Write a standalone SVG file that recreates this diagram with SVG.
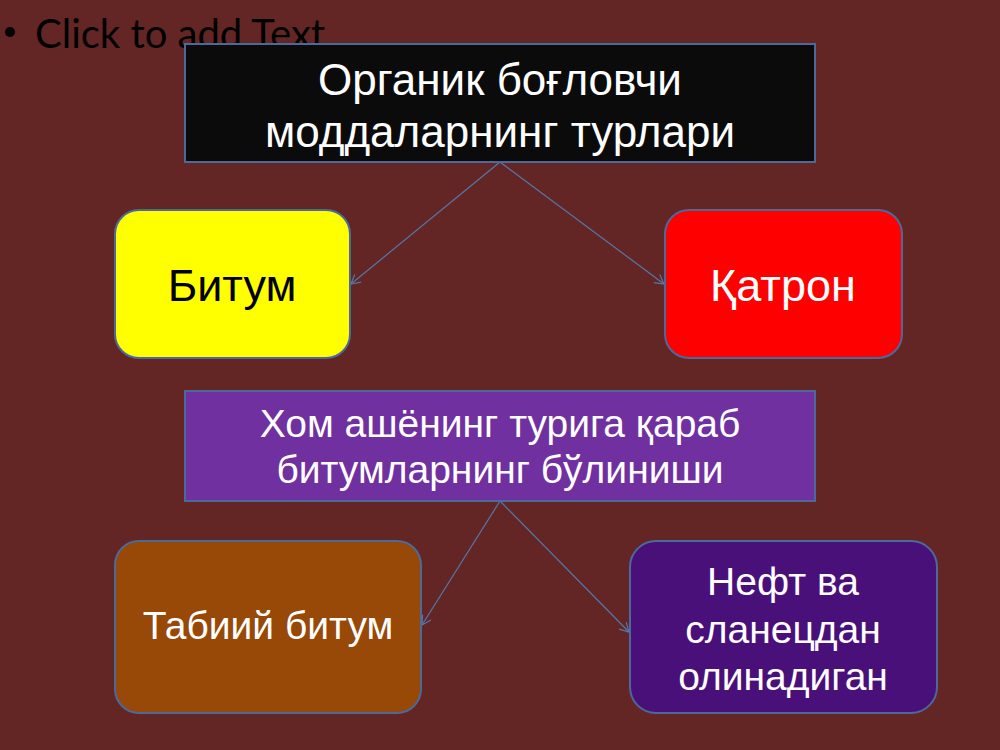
<svg xmlns="http://www.w3.org/2000/svg" width="1000" height="750" viewBox="0 0 1000 750">
<style>
.box{stroke:#4a6a9c;stroke-width:2}
.t{font-family:"Liberation Sans",Arial,sans-serif;text-anchor:middle}
.w{fill:#ffffff}
.k{fill:#000000}
.con{stroke:#5577aa;stroke-width:1.2;fill:none;marker-end:url(#arr)}
</style>
<defs>
<marker id="arr" markerWidth="12" markerHeight="12" refX="10" refY="6" orient="auto" markerUnits="userSpaceOnUse">
<path d="M1,1 L10,6 L1,11" fill="none" stroke="#5577aa" stroke-width="1.2"/>
</marker>
</defs>
<rect x="0" y="0" width="1000" height="750" fill="#632625"/>
<g id="placeholder">
<circle cx="10" cy="32" r="5" fill="#000"/>
<text x="35" y="48" font-family="Lato,'Liberation Sans',sans-serif" font-size="40" fill="#000">Click to add Text</text>
</g>
<g id="connectors">
<line class="con" x1="500" y1="162" x2="351" y2="284"/>
<line class="con" x1="500" y1="162" x2="664" y2="284"/>
<line class="con" x1="500" y1="501" x2="422" y2="625"/>
<line class="con" x1="500" y1="501" x2="629" y2="632"/>
</g>
<g id="top">
<rect class="box" x="185" y="44" width="630" height="118" fill="#0b0b0b"/>
<text class="t w" x="500" y="95" font-size="44">Органик боғловчи</text>
<text class="t w" x="500" y="147" font-size="44">моддаларнинг турлари</text>
</g>
<g id="bitum">
<rect class="box" x="115" y="210" width="235" height="148" rx="24" fill="#ffff00"/>
<text class="t k" x="232" y="301" font-size="45">Битум</text>
</g>
<g id="qatron">
<rect class="box" x="665" y="210" width="237" height="148" rx="24" fill="#ff0000"/>
<text class="t w" x="783" y="301" font-size="45">Қатрон</text>
</g>
<g id="mid">
<rect class="box" x="185" y="391" width="630" height="110" fill="#7030a0"/>
<text class="t w" x="500" y="437" font-size="39">Хом ашёнинг турига қараб</text>
<text class="t w" x="500" y="483" font-size="39">битумларнинг бўлиниши</text>
</g>
<g id="tabiiy">
<rect class="box" x="115" y="541" width="306" height="172" rx="24" fill="#984807"/>
<text class="t w" x="268" y="639" font-size="39">Табиий битум</text>
</g>
<g id="neft">
<rect class="box" x="630" y="541" width="307" height="172" rx="26" fill="#4a107a"/>
<text class="t w" x="783" y="595" font-size="39">Нефт ва</text>
<text class="t w" x="783" y="643" font-size="39">сланецдан</text>
<text class="t w" x="783" y="690" font-size="39">олинадиган</text>
</g>
</svg>
